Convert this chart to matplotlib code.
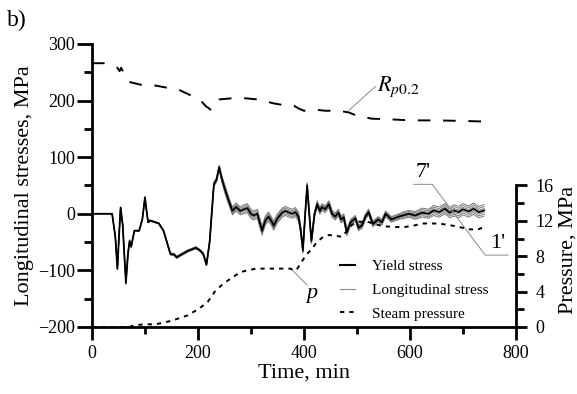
import numpy as np
import matplotlib.pyplot as plt
from matplotlib.lines import Line2D

plt.rcParams['font.family'] = ['Liberation Serif', 'DejaVu Serif']
plt.rcParams['mathtext.fontset'] = 'stix'

# longitudinal stress bundle (centre curve) and half-width of the bundle, MPa
stress_t = [0, 38, 44, 48, 51, 54, 58, 64, 68, 71, 74, 80, 89, 95, 100, 103, 106, 110,
            126, 135, 148, 155, 160, 165, 180, 196, 204, 210, 216, 222, 230, 235, 240,
            245, 250, 258, 265, 272, 280, 287, 293, 300, 305, 312, 321, 327, 333, 338,
            343, 350, 359, 365, 372, 378, 384, 390, 394, 398, 402, 406, 410, 414, 420,
            425, 430, 434, 440, 447, 453, 459, 465, 470, 475, 481, 488, 497, 503, 510,
            516, 522, 530, 540, 547, 554, 565, 579, 590, 598, 610, 623, 635, 645, 655,
            666, 675, 683, 692, 700, 711, 720, 730, 740]
stress_mid = [0, 0, -40, -97, -40, 11, -20, -122, -70, -48, -58, -30, -30, -10, 29, 5, -15, -12,
              -17, -30, -71, -72, -77, -74, -66, -60, -65, -71, -90, -50, 52, 60, 82,
              62, 46, 23, 5, 12, 5, 8, 10, 0, -3, 0, -30, -12, -5, -12,
              -21, -8, 2, 5, 2, 0, 3, -6, -30, -65, -5, 50, 0, -48, 0,
              17, 5, 12, 8, 17, 0, -5, 2, -10, -6, -33, -15, -8, -25, -20,
              -5, 3, -18, -10, -15, 0, -10, -5, -2, 0, -3, 2, 0, 6, 3,
              9, 2, 6, 3, 8, 4, 9, 3, 6]
stress_half = [0, 0, 1, 2, 1, 1, 1, 3, 2, 2, 2, 1, 1, 1, 1, 1, 1, 1,
               1, 1, 2, 2, 2, 2, 2, 2, 2, 2, 2, 3, 4, 4, 4,
               6, 7, 7, 7, 7, 7, 8, 8, 8, 8, 8, 8, 8, 8, 8,
               8, 8, 8, 8, 8, 8, 8, 8, 6, 5, 5, 5, 5, 5, 5,
               6, 6, 6, 6, 6, 6, 6, 6, 6, 6, 6, 5, 5, 5, 5,
               5, 5, 5, 5, 5, 5, 5, 5, 6, 6, 7, 8, 8, 9, 9,
               9, 9, 10, 10, 10, 10, 10, 10, 10]
curve_offsets = [-1, -2/3, -1/3, 0, 1/3, 2/3, 1]

# yield stress Rp0.2, MPa
rp_t = [0, 23, 48, 52, 55, 57, 70, 92, 117, 140, 164, 187, 205, 215, 224, 232, 240, 264,
        290, 313, 343, 368, 381, 390, 400, 419, 441, 466, 485, 500, 528, 560, 600, 650,
        700, 740]
rp_val = [266, 266, 258, 252, 258, 254, 233, 228, 227, 223, 219, 209, 200, 190, 184, 195,
          202, 204, 204, 202, 195, 191, 191, 186, 182, 184, 182, 182, 179, 173, 168, 167,
          165, 165, 164, 163]

# steam pressure, MPa
p_t = [0, 70, 80, 100, 120, 150, 180, 200, 218, 233, 250, 265, 280, 293, 310, 340, 373,
       385, 392, 397, 405, 416, 422, 428, 437, 447, 460, 472, 480, 490, 500, 520, 535,
       550, 570, 590, 610, 623, 655, 686, 711, 727, 740]
p_val = [0, 0, 0.2, 0.3, 0.3, 0.7, 1.3, 2.0, 2.8, 4.1, 5.0, 5.6, 6.2, 6.4, 6.6, 6.6, 6.6,
         6.4, 7.0, 7.5, 8.2, 8.9, 9.4, 9.8, 10.2, 10.4, 10.3, 10.2, 10.8, 11.5, 11.9, 11.9,
         11.6, 11.4, 11.3, 11.3, 11.5, 11.7, 11.7, 11.4, 11.05, 11.0, 11.3]

fig = plt.figure(figsize=(5.77, 3.94), dpi=100)
ax = fig.add_axes([0.1594, 0.1701, 0.7348, 0.7183])
ax2 = ax.twinx()

st = np.array(stress_t)
sm = np.array(stress_mid)
sh = np.array(stress_half)
for k in curve_offsets:
    if k == 0:
        continue
    ax.plot(st, sm + k * sh, color='#7a7a7a', lw=0.7)
ax.plot(st, sm, color='black', lw=1.3)

ax.plot(rp_t, rp_val, color='black', lw=1.4, linestyle=(0, (6.5, 6.5)))
ax2.plot(p_t, p_val, color='black', lw=1.4, linestyle=(0, (2.2, 2.6)))

ax.set_xlim(0, 800)
ax.set_ylim(-200, 300)
ax2.set_ylim(0, 32)

for a in (ax, ax2):
    a.spines['top'].set_visible(False)
ax.spines['right'].set_visible(False)
ax2.spines['left'].set_visible(False)
ax2.spines['bottom'].set_visible(False)
ax.spines['left'].set_bounds(-200, 300)
ax.spines['bottom'].set_bounds(0, 800)
ax2.spines['right'].set_bounds(0, 16)
for s in (ax.spines['left'], ax.spines['bottom'], ax2.spines['right']):
    s.set_linewidth(2.0)

ax.set_xticks(np.arange(0, 801, 200))
ax.set_xticks(np.arange(100, 800, 200), minor=True)
ax.set_yticks(np.arange(-200, 301, 100))
ax.set_yticks(np.arange(-150, 300, 100), minor=True)
ax2.set_yticks([0, 4, 8, 12, 16])
ax2.set_yticks([2, 6, 10, 14], minor=True)

ax.tick_params(axis='y', which='major', direction='out', length=11, width=2, labelsize=13, pad=1)
ax.tick_params(axis='y', which='minor', direction='out', length=6, width=2)
ax.tick_params(axis='x', which='major', direction='out', length=9, width=2, labelsize=13, pad=4)
ax.tick_params(axis='x', which='minor', direction='out', length=5, width=2)
ax2.tick_params(axis='y', which='major', direction='out', length=8, width=2, labelsize=13, pad=6)
ax2.tick_params(axis='y', which='minor', direction='out', length=6, width=2)

ax.set_xlabel('Time, min', fontsize=16, labelpad=1)
ax.set_ylabel('Longitudinal stresses, MPa', fontsize=16, labelpad=3)
ax2.set_ylabel('Pressure, MPa', fontsize=16, va='center')
ax2.yaxis.set_label_coords(1.122, 0.272)

fig.text(0.012, 0.975, 'b)', fontsize=17, va='top', ha='left')

# leader lines and labels
lead = dict(color='#8a8a8a', lw=0.7)
ax.plot([485, 535], [183, 225], **lead)
ax.text(537, 217, r'$R_{p0.2}$', fontsize=16, ha='left', va='baseline')
ax.plot([607, 642, 742, 785], [52, 52, -73, -73], **lead)
ax.text(624, 56, "7'", fontsize=16, ha='center', va='bottom')
ax.text(766, -70, "1'", fontsize=16, ha='center', va='bottom')
ax.plot([374, 406], [-96, -126], **lead)
ax.text(414, -148, 'p', fontsize=16, style='italic', ha='center', va='baseline')

handles = [Line2D([], [], color='black', lw=1.5),
           Line2D([], [], color='#8a8a8a', lw=0.8),
           Line2D([], [], color='black', lw=1.4, linestyle=(0, (2.2, 2.6)))]
labels = ['Yield stress', 'Longitudinal stress', 'Steam pressure']
ax.legend(handles, labels, loc='upper left', bbox_to_anchor=(0.585, 0.238), frameon=False,
          fontsize=11, handlelength=1.0, handletextpad=1.1, labelspacing=0.65,
          borderpad=0, borderaxespad=0)

fig.savefig('out.png', dpi=100)
